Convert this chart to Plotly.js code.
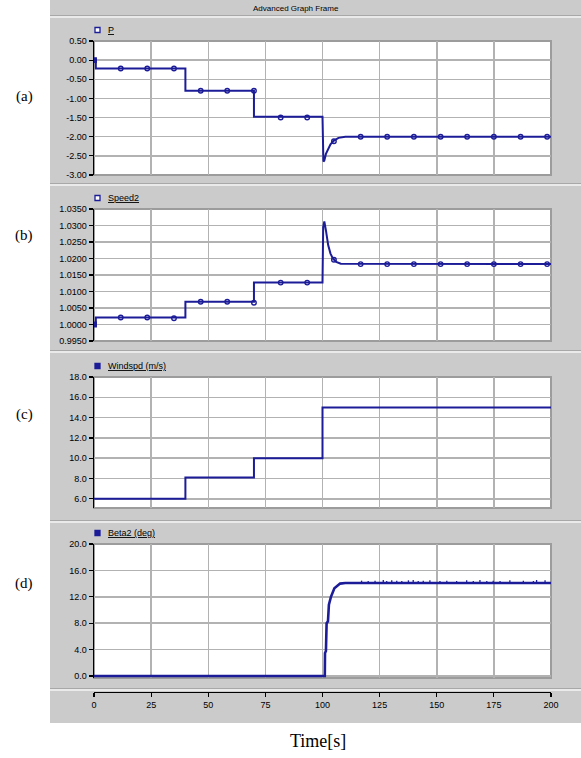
<!DOCTYPE html>
<html>
<head>
<meta charset="utf-8">
<script src="https://cdn.plot.ly/plotly-3.0.1.min.js"></script>
<style>html,body{margin:0;padding:0;background:#fff;}#chart{width:581px;height:758px;}</style>
</head>
<body>
<div id="chart"></div>
<script>
// ---------- data ----------
const T_P = [0, 0.8, 0.8, 40, 40, 70, 70, 100, 100.4, 100.8, 101.5, 102.5, 103.5, 105, 107, 110, 200];
const P   = [0.0, 0.0, -0.22, -0.22, -0.80, -0.80, -1.48, -1.48, -2.65, -2.62, -2.45, -2.30, -2.20, -2.10, -2.03, -2.00, -2.00];
const T_MARK = [0, 11.7, 23.3, 35, 46.7, 58.3, 70, 81.7, 93.3, 105, 116.7, 128.3, 140, 151.7, 163.3, 175, 186.7, 198.3];
const P_MARK = [0.0, -0.22, -0.22, -0.22, -0.80, -0.80, -0.80, -1.50, -1.50, -2.12, -2.00, -2.00, -2.00, -2.00, -2.00, -2.00, -2.00, -2.00];

const T_S = [0, 0.8, 0.8, 40, 40, 70, 70, 100, 100.3, 100.8, 101.5, 102.5, 103.5, 104.5, 106, 108, 200];
const SPEED2 = [1.0, 1.0, 1.0021, 1.0021, 1.0069, 1.0069, 1.0127, 1.0127, 1.0295, 1.0312, 1.0285, 1.0240, 1.0215, 1.0200, 1.0190, 1.0184, 1.0183];
const S_MARK = [1.0, 1.0021, 1.0021, 1.0019, 1.0069, 1.0069, 1.0066, 1.0127, 1.0127, 1.0196, 1.0183, 1.0183, 1.0183, 1.0183, 1.0183, 1.0183, 1.0183, 1.0183];

const T_W = [0, 40, 40, 70, 70, 100, 100, 200];
const WINDSPD = [6.0, 6.0, 8.1, 8.1, 10.0, 10.0, 15.0, 15.0];

const T_B = [0, 101, 101.1, 101.5, 101.8, 102.4, 102.8, 103.7, 105.2, 107.7, 110, 200];
const BETA2 = [0, 0, 3.5, 3.8, 8.0, 8.3, 10.8, 12.0, 13.3, 14.0, 14.1, 14.1];
const T_SPIKE = [117.1, 120, 123, 126.6, 128.1, 130.3, 132.5, 134.7, 137.6, 139.7, 141.9, 144.1, 147, 151.4, 154.4, 158.7, 163.1, 166, 168.9, 171.9, 174.7, 177.7, 182, 187.9, 192.3, 193.7, 197.4];
const B_SPIKE = [14.45, 14.4, 14.45, 14.55, 14.4, 14.5, 14.45, 14.4, 14.5, 14.55, 14.4, 14.45, 14.5, 14.4, 14.45, 14.4, 14.5, 14.4, 14.55, 14.4, 14.45, 14.4, 14.5, 14.45, 14.4, 14.55, 14.5];

const X_TICKS = [0, 25, 50, 75, 100, 125, 150, 175, 200];
const P_TICKS = [0.5, 0.0, -0.5, -1.0, -1.5, -2.0, -2.5, -3.0];
const P_LABELS = ["0.50", "0.00", "-0.50", "-1.00", "-1.50", "-2.00", "-2.50", "-3.00"];
const S_TICKS = [1.035, 1.030, 1.025, 1.020, 1.015, 1.010, 1.005, 1.000, 0.995];
const S_LABELS = ["1.0350", "1.0300", "1.0250", "1.0200", "1.0150", "1.0100", "1.0050", "1.0000", "0.9950"];
const W_TICKS = [18, 16, 14, 12, 10, 8, 6];
const W_LABELS = ["18.0", "16.0", "14.0", "12.0", "10.0", "8.0", "6.0"];
const B_TICKS = [20, 16, 12, 8, 4, 0];
const B_LABELS = ["20.0", "16.0", "12.0", "8.0", "4.0", "0.0"];

const LEGENDS = ["P", "Speed2", "Windspd (m/s)", "Beta2 (deg)"];
const PANEL_LABELS = ["(a)", "(b)", "(c)", "(d)"];

// ---------- style helpers ----------
const W = 581, H = 758;
const px = v => v / W;
const py = v => 1 - v / H;
const NAVY = '#1c1c98';
const GRAY = '#cbcbcb';
const GRID = '#b2b2b2';
const tickFont = {family: 'Liberation Sans, Arial, sans-serif', size: 9, color: '#000'};

const xDom = [px(94), px(551)];
const panels = [
  {top: 41, bot: 175, range: [-3.0, 0.5], ticks: P_TICKS, labels: P_LABELS, legY: 30, lblY: 97, hollow: true},
  {top: 209, bot: 341, range: [0.995, 1.035], ticks: S_TICKS, labels: S_LABELS, legY: 198, lblY: 236, hollow: true},
  {top: 377, bot: 508, range: [5.1, 18], ticks: W_TICKS, labels: W_LABELS, legY: 366, lblY: 414, hollow: false},
  {top: 544, bot: 678, range: [-0.3, 20], ticks: B_TICKS, labels: B_LABELS, legY: 533, lblY: 583, hollow: false}
];

const line = {color: NAVY, width: 2};
const spikeX = [], spikeY = [];
T_SPIKE.forEach((t, i) => { spikeX.push(t, t, null); spikeY.push(BETA2[BETA2.length - 1], B_SPIKE[i], null); });

const markerSymbols = T_MARK.map((t, i) => i === 0 ? 'square' : 'circle-open');
const mk = {symbol: markerSymbols, size: 4.5, color: NAVY, line: {color: NAVY, width: 1.4}};

const data = [
  {x: T_P, y: P, mode: 'lines', line: line, xaxis: 'x', yaxis: 'y'},
  {x: T_MARK, y: P_MARK, mode: 'markers', marker: mk, xaxis: 'x', yaxis: 'y'},
  {x: T_S, y: SPEED2, mode: 'lines', line: line, xaxis: 'x2', yaxis: 'y2'},
  {x: T_MARK, y: S_MARK, mode: 'markers', marker: mk, xaxis: 'x2', yaxis: 'y2'},
  {x: T_W, y: WINDSPD, mode: 'lines', line: line, xaxis: 'x3', yaxis: 'y3'},
  {x: T_B, y: BETA2, mode: 'lines', line: {color: NAVY, width: 2.6}, xaxis: 'x4', yaxis: 'y4'},
  {x: spikeX, y: spikeY, mode: 'lines', line: {color: NAVY, width: 1.3}, xaxis: 'x4', yaxis: 'y4'}
];

const layout = {
  width: W, height: H,
  margin: {l: 0, r: 0, t: 0, b: 0},
  paper_bgcolor: '#ffffff',
  plot_bgcolor: 'rgba(0,0,0,0)',
  showlegend: false,
  shapes: [],
  annotations: []
};

// gray frame
layout.shapes.push({type: 'rect', xref: 'paper', yref: 'paper', x0: px(50), x1: 1, y0: py(723), y1: 1, fillcolor: GRAY, line: {width: 0}, layer: 'below'});
// separators
[17, 185, 352, 522, 690].forEach(v => {
  layout.shapes.push({type: 'line', xref: 'paper', yref: 'paper', x0: px(50), x1: 1, y0: py(v - 1.5), y1: py(v - 1.5), line: {color: '#a8a8a8', width: 1}, layer: 'below'});
  layout.shapes.push({type: 'line', xref: 'paper', yref: 'paper', x0: px(50), x1: 1, y0: py(v), y1: py(v), line: {color: '#f4f4f4', width: 1.5}, layer: 'below'});
});

panels.forEach((p, i) => {
  const n = i === 0 ? '' : String(i + 1);
  const yDom = [py(p.bot), py(p.top)];
  layout.shapes.push({type: 'rect', xref: 'paper', yref: 'paper', x0: xDom[0], x1: xDom[1], y0: yDom[0], y1: yDom[1], fillcolor: '#ffffff', line: {color: '#9c9c9c', width: 2}, layer: 'below'});
  const xa = {
    domain: xDom, range: [0, 200], tickvals: X_TICKS, showgrid: true, gridcolor: GRID, gridwidth: 1.5,
    zeroline: false, showline: false, showticklabels: false, ticks: '', anchor: 'y' + n, fixedrange: true
  };
  if (i === 3) {
    Object.assign(xa, {anchor: 'free', position: py(692), showline: true, linecolor: '#000', linewidth: 1.2,
      ticks: 'outside', ticklen: 4, tickcolor: '#000', tickwidth: 1.2, showticklabels: true, tickfont: tickFont,
      ticktext: X_TICKS.map(String)});
  }
  layout['xaxis' + n] = xa;
  layout['yaxis' + n] = {
    domain: yDom, range: p.range, tickvals: p.ticks, ticktext: p.labels, tickfont: tickFont,
    showgrid: true, gridcolor: GRID, gridwidth: 1.5, zeroline: false,
    showline: true, linecolor: '#000', linewidth: 1.5, ticks: 'outside', ticklen: 4, tickcolor: '#000', tickwidth: 1.2,
    anchor: 'x' + n, fixedrange: true
  };
  layout.shapes.push({type: 'rect', xref: 'paper', yref: 'paper', x0: px(95), x1: px(100), y0: py(p.legY + 2.5), y1: py(p.legY - 2.5),
    fillcolor: p.hollow ? '#ffffff' : NAVY, line: {color: NAVY, width: 1.3}});
  layout.annotations.push({xref: 'paper', yref: 'paper', x: px(106), y: py(p.legY), xanchor: 'left', yanchor: 'middle',
    text: '<u>' + LEGENDS[i] + '</u>', showarrow: false, font: {family: 'Liberation Sans, Arial, sans-serif', size: 9, color: '#000'}});
  layout.annotations.push({xref: 'paper', yref: 'paper', x: px(24), y: py(p.lblY), xanchor: 'center', yanchor: 'middle',
    text: PANEL_LABELS[i], showarrow: false, font: {family: 'Liberation Serif, Times New Roman, serif', size: 15, color: '#000'}});
});

layout.annotations.push({xref: 'paper', yref: 'paper', x: px(296), y: py(8), xanchor: 'center', yanchor: 'middle',
  text: 'Advanced Graph Frame', showarrow: false, font: {family: 'Liberation Sans, Arial, sans-serif', size: 8, color: '#000'}});
layout.annotations.push({xref: 'paper', yref: 'paper', x: px(318), y: py(741), xanchor: 'center', yanchor: 'middle',
  text: 'Time[s]', showarrow: false, font: {family: 'Liberation Serif, Times New Roman, serif', size: 18, color: '#000'}});

Plotly.newPlot('chart', data, layout, {displayModeBar: false, staticPlot: true});
</script>
</body>
</html>
